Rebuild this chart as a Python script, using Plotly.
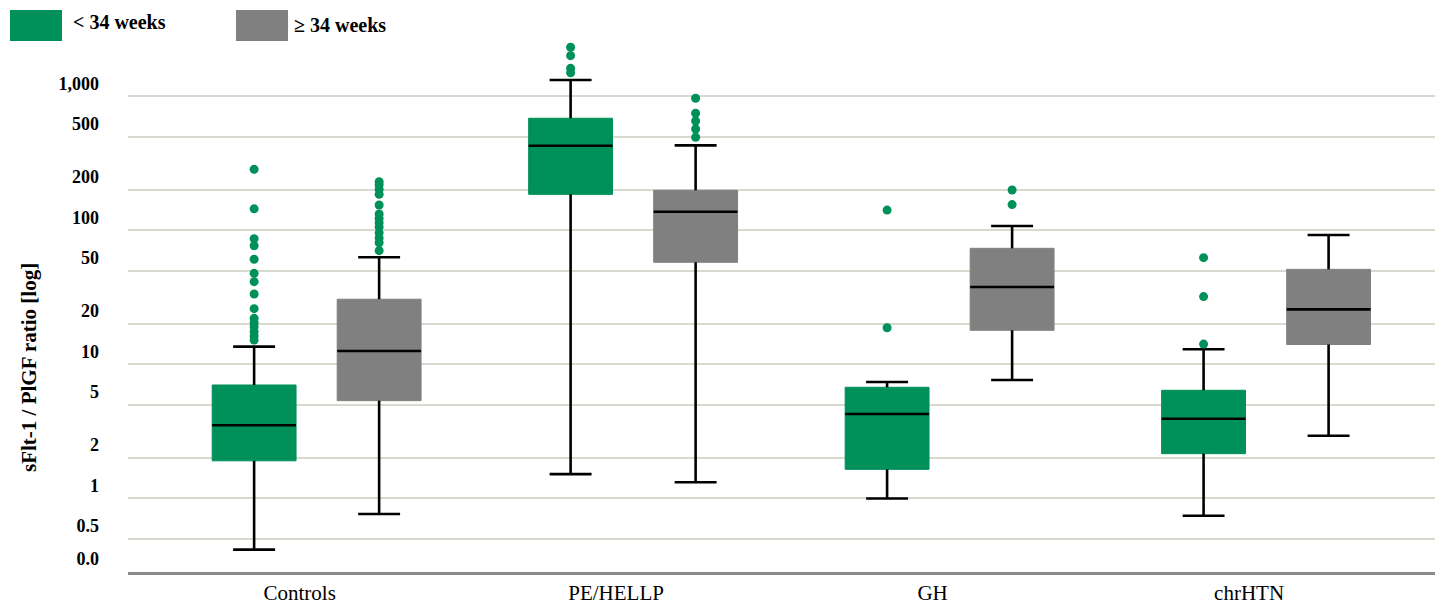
import math
import plotly.graph_objects as go

# ---------------- data ----------------
CATEGORIES = ["Controls", "PE/HELLP", "GH", "chrHTN"]
GROUP_NAMES = ["&lt; 34 weeks", "≥ 34 weeks"]

early_q1 = [1.91, 186, 1.65, 2.16]
early_median = [3.52, 429, 4.27, 3.94]
early_q3 = [7.03, 688, 6.76, 6.42]
early_low = [0.415, 1.52, 1.0, 0.744]
early_high = [13.6, 1328, 7.4, 13.0]
early_outliers = [
    [286, 145, 86.9, 77, 61, 47.9, 41.5, 33.6, 26.1, 22.1, 20.5, 19.1, 17.6, 16.3, 15.2],
    [2330, 2016, 1623, 1505],
    [142, 18.8],
    [62.7, 32.1, 14.2],
]

late_q1 = [5.37, 57.9, 18.0, 14.1]
late_median = [12.6, 138, 37.9, 25.8]
late_q3 = [30.7, 199.5, 73.6, 51.3]
late_low = [0.766, 1.32, 7.66, 2.94]
late_high = [63.1, 432, 108, 92.6]
late_outliers = [
    [231, 219, 203, 186, 155, 133, 123, 114, 106, 96, 88, 81, 70.7],
    [970, 750, 656, 572, 496],
    [200.6, 156],
    [],
]

Y_TICK_VALS = [0.283, 0.5, 1, 2, 5, 10, 20, 50, 100, 200, 500, 1000]
Y_TICK_TEXT = ["0.0", "0.5", "1", "2", "5", "10", "20", "50", "100", "200", "500", "1,000"]
Y_TITLE = "sFlt-1 / PlGF ratio [log]"

# ---------------- style ----------------
GREEN = "#009059"
GREY = "#808080"
FONT = "Liberation Serif"
OFFSET = 0.1975
BOX_W = 0.265

PAGE = 8  # default body margin of the html page
W, H = 1443, 605
L, T = 128 - PAGE, 40 - PAGE
R = W - (1443 - PAGE)
B = H - (572 - PAGE)
PW, PH = W - L - R, H - T - B


def px_x(px):
    return (px - PAGE - L) / PW


def px_y(py):
    return (H - B - (py - PAGE)) / PH


fig = go.Figure()

groups = [
    (GREEN, -OFFSET, early_q1, early_median, early_q3, early_low, early_high, early_outliers),
    (GREY, OFFSET, late_q1, late_median, late_q3, late_low, late_high, late_outliers),
]

for color, off, q1, med, q3, lo, hi, outs in groups:
    xs = [i + off for i in range(len(CATEGORIES))]
    fig.add_trace(go.Box(
        x=xs, q1=q1, median=med, q3=q3, lowerfence=lo, upperfence=hi,
        width=BOX_W, fillcolor=color, line=dict(color=color, width=1),
        whiskerwidth=0, boxpoints=False, showlegend=False, hoverinfo="skip",
    ))
    # black whiskers, caps, medians
    lx, ly = [], []
    for x, a, b_, c, d, e in zip(xs, lo, q1, med, q3, hi):
        lx += [x, x, None, x, x, None]
        ly += [a, b_, None, d, e, None]
        lx += [x - BOX_W / 4, x + BOX_W / 4, None, x - BOX_W / 4, x + BOX_W / 4, None]
        ly += [a, a, None, e, e, None]
        lx += [x - BOX_W / 2, x + BOX_W / 2, None]
        ly += [c, c, None]
    fig.add_trace(go.Scatter(x=lx, y=ly, mode="lines",
                             line=dict(color="black", width=2.6),
                             showlegend=False, hoverinfo="skip"))
    ox, oy = [], []
    for x, vals in zip(xs, outs):
        ox += [x] * len(vals)
        oy += vals
    fig.add_trace(go.Scatter(x=ox, y=oy, mode="markers",
                             marker=dict(color=GREEN, size=9),
                             showlegend=False, hoverinfo="skip"))

# custom legend (squares + labels)
legend_items = [(GREEN, 10, 62, 71, 22), (GREY, 236, 288, 292, 25)]
for (color, x0, x1, tx, ty), name in zip(legend_items, GROUP_NAMES):
    fig.add_shape(type="rect", xref="paper", yref="paper",
                  x0=px_x(x0), x1=px_x(x1), y0=px_y(41), y1=px_y(10),
                  fillcolor=color, line=dict(width=0))
    fig.add_annotation(xref="paper", yref="paper", x=px_x(tx), y=px_y(ty),
                       xanchor="left", yanchor="middle", showarrow=False,
                       text=name, font=dict(family=FONT, size=20, color="black",
                                            weight="bold"))

fig.add_annotation(xref="paper", yref="paper", x=px_x(29), y=px_y(368),
                   xanchor="center", yanchor="middle", showarrow=False,
                   textangle=-90, text=Y_TITLE,
                   font=dict(family=FONT, size=21, color="black", weight="bold"))

fig.update_layout(
    width=W, height=H,
    margin=dict(l=L, r=R, t=T, b=B, pad=0, autoexpand=False),
    paper_bgcolor="white", plot_bgcolor="white",
    boxmode="overlay",
    showlegend=False,
    xaxis=dict(
        range=[-0.596, 3.559],
        tickvals=list(range(len(CATEGORIES))),
        ticktext=CATEGORIES,
        showgrid=False, zeroline=False, automargin=False,
        showline=True, linecolor="#8a8a8a", linewidth=2.5,
        ticks="", ticklabelshift=-17, ticklabelstandoff=0,
        tickfont=dict(family=FONT, size=21, color="black"),
    ),
    yaxis=dict(
        type="log",
        range=[math.log10(0.283) - 0.0005, 3.4216],
        tickvals=Y_TICK_VALS,
        ticktext=Y_TICK_TEXT,
        showgrid=True, gridcolor="#d9d9d0", gridwidth=2.2,
        zeroline=False, showline=False, automargin=False,
        ticks="", ticklabelshift=-13, ticklabelstandoff=28,
        tickfont=dict(family=FONT, size=18, color="black", weight="bold"),
    ),
)

fig.write_html("out.html")
